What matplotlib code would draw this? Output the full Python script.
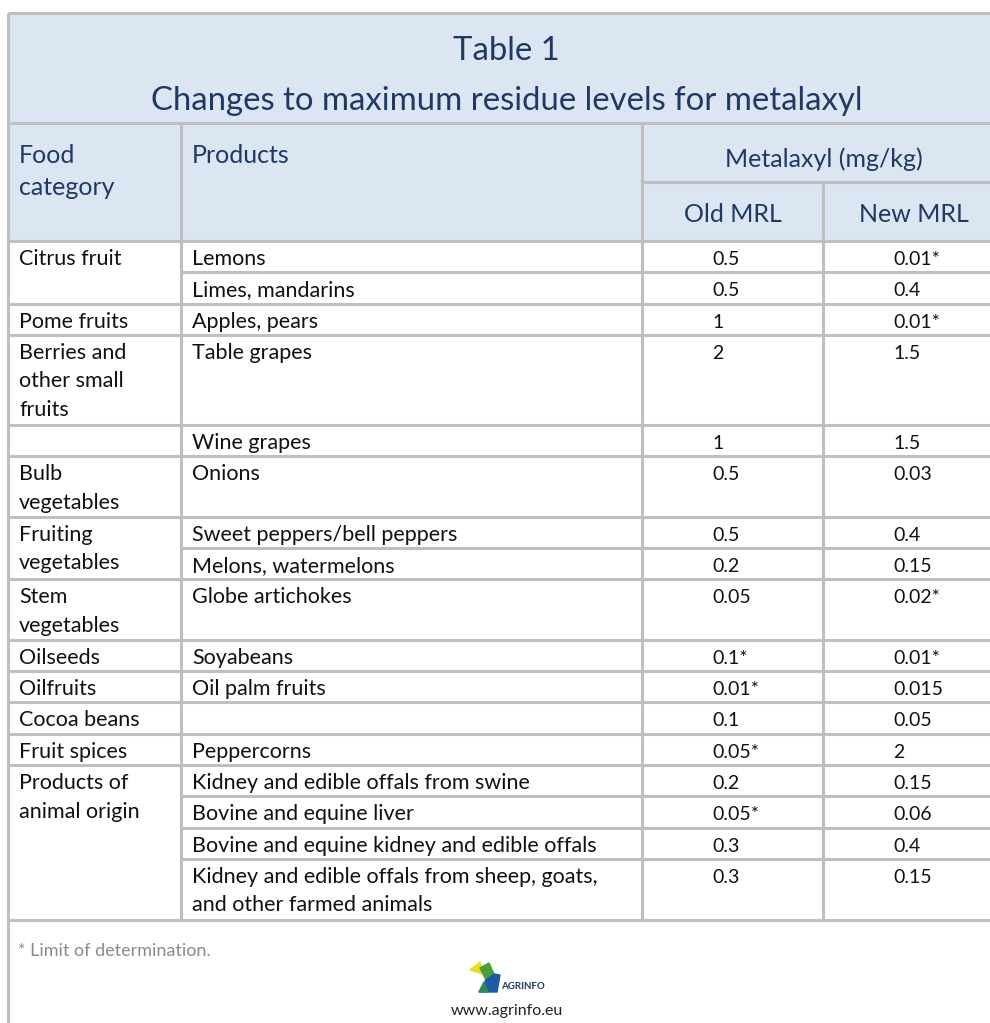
import matplotlib.pyplot as plt
from matplotlib.patches import Rectangle, Polygon

plt.rcParams['font.family'] = ['Lato', 'DejaVu Sans']

title_lines = ["Table 1", "Changes to maximum residue levels for metalaxyl"]
col_headers = ["Food\ncategory", "Products", "Metalaxyl (mg/kg)"]
sub_headers = ["Old MRL", "New MRL"]

categories = ["Citrus fruit", "", "Pome fruits", "Berries and\nother small\nfruits", "",
              "Bulb\nvegetables", "Fruiting\nvegetables", "", "Stem\nvegetables",
              "Oilseeds", "Oilfruits", "Cocoa beans", "Fruit spices",
              "Products of\nanimal origin", "", "", ""]
# how many rows each category cell covers (0 = covered by the cell above)
category_span = [2, 0, 1, 1, 1, 1, 2, 0, 1, 1, 1, 1, 1, 4, 0, 0, 0]
products = ["Lemons", "Limes, mandarins", "Apples, pears", "Table grapes", "Wine grapes",
            "Onions", "Sweet peppers/bell peppers", "Melons, watermelons",
            "Globe artichokes", "Soyabeans", "Oil palm fruits", "", "Peppercorns",
            "Kidney and edible offals from swine", "Bovine and equine liver",
            "Bovine and equine kidney and edible offals",
            "Kidney and edible offals from sheep, goats,\nand other farmed animals"]
old_mrl = ["0.5", "0.5", "1", "2", "1", "0.5", "0.5", "0.2", "0.05", "0.1*", "0.01*",
           "0.1", "0.05*", "0.2", "0.05*", "0.3", "0.3"]
new_mrl = ["0.01*", "0.4", "0.01*", "1.5", "1.5", "0.03", "0.4", "0.15", "0.02*",
           "0.01*", "0.015", "0.05", "2", "0.15", "0.06", "0.4", "0.15"]
footnote = "* Limit of determination."
website = "www.agrinfo.eu"

navy = "#1f3864"
grid = "#bfbfbf"
head_bg = "#dce6f2"
ink = "#111111"
lw = 2.2

fig = plt.figure(figsize=(9.9, 10.23), dpi=100)
ax = fig.add_axes([0, 0, 1, 1])
ax.set_xlim(0, 990)
ax.set_ylim(1023, 0)
ax.axis("off")


def put(x, y, s, size, color, ha="left", step=28.5):
    # place each line on its own baseline
    for k, line in enumerate(s.split("\n")):
        ax.text(x, y + k * step, line, ha=ha, va="baseline", fontsize=size, color=color)


left, right = 8, 1005
top, title_bot, sub_y, head_bot = 13, 123, 182, 241
cx = [left, 181, 642, 823, right]
line_h, pad = 29.3, 2.0
fs = 15.5

# header background
ax.add_patch(Rectangle((left, top), right - left, head_bot - top, color=head_bg, zorder=0))

# title
put((left + right) / 2, 60, title_lines[0], 23.7, navy, ha="center")
put((left + right) / 2, 110, title_lines[1], 23.7, navy, ha="center")

# column headers
put(cx[0] + 11, 163, col_headers[0], 18, navy, step=32)
put(cx[1] + 11, 163, col_headers[1], 18, navy)
put((cx[2] + cx[4]) / 2, 167, col_headers[2], 18, navy, ha="center")
put((cx[2] + cx[3]) / 2, 222, sub_headers[0], 18, navy, ha="center")
put((cx[3] + cx[4]) / 2, 222, sub_headers[1], 18, navy, ha="center")

# body rows
y = head_bot
bottoms = []
for i in range(len(products)):
    n = products[i].count("\n") + 1
    if category_span[i] == 1:
        n = max(n, categories[i].count("\n") + 1)
    h = pad + line_h * n
    by = y + 24
    if category_span[i] > 0:
        put(cx[0] + 11, by, categories[i], fs, ink)
    put(cx[1] + 11, by, products[i], fs, ink)
    put(cx[2] + 70, by, old_mrl[i], fs - 1.5, ink)
    put(cx[3] + 70, by, new_mrl[i], fs - 1.5, ink)
    y += h
    bottoms.append(y)
table_bot = y

# grid lines
kw = dict(color=grid, lw=lw, solid_capstyle="butt", zorder=2)
ax.plot([left, right], [top, top], **kw)
ax.plot([left, right], [title_bot, title_bot], **kw)
ax.plot([cx[2], right], [sub_y, sub_y], **kw)
ax.plot([left, right], [head_bot, head_bot], **kw)
for i, yb in enumerate(bottoms):
    nxt = category_span[i + 1] if i + 1 < len(bottoms) else 1
    x0 = cx[1] if nxt == 0 else left
    ax.plot([x0, right], [yb, yb], **kw)
ax.plot([left, left], [top, 1023], **kw)
ax.plot([cx[1], cx[1]], [title_bot, table_bot], **kw)
ax.plot([cx[2], cx[2]], [title_bot, table_bot], **kw)
ax.plot([cx[3], cx[3]], [sub_y, table_bot], **kw)

# footer
put(18, table_bot + 36, footnote, 13, "#8a8a8a")

# small logo
lx, ly = 470, 962
ax.add_patch(Polygon([(lx, ly + 8), (lx + 10, ly), (lx + 13, ly + 12)], color="#e6df1c", zorder=3))
ax.add_patch(Polygon([(lx + 10, ly + 6), (lx + 19, ly + 1), (lx + 24, ly + 12),
                      (lx + 16, ly + 18)], color="#4a9e3c", zorder=3))
ax.add_patch(Polygon([(lx + 9, ly + 30), (lx + 16, ly + 18), (lx + 24, ly + 12),
                      (lx + 30, ly + 13), (lx + 27, ly + 30)], color="#1d5aa6", zorder=3))
ax.add_patch(Polygon([(lx + 9, ly + 30), (lx + 14, ly + 20), (lx + 18, ly + 30)],
                     color="#2e8b57", zorder=4))
ax.text(lx + 31, ly + 27, "AGRINFO", ha="left", va="baseline", fontsize=7, color="#1f3864",
        fontweight="bold")
put((left + right) / 2, 1015, website, 11.5, "#222222", ha="center")

fig.savefig("out.png", dpi=100)
